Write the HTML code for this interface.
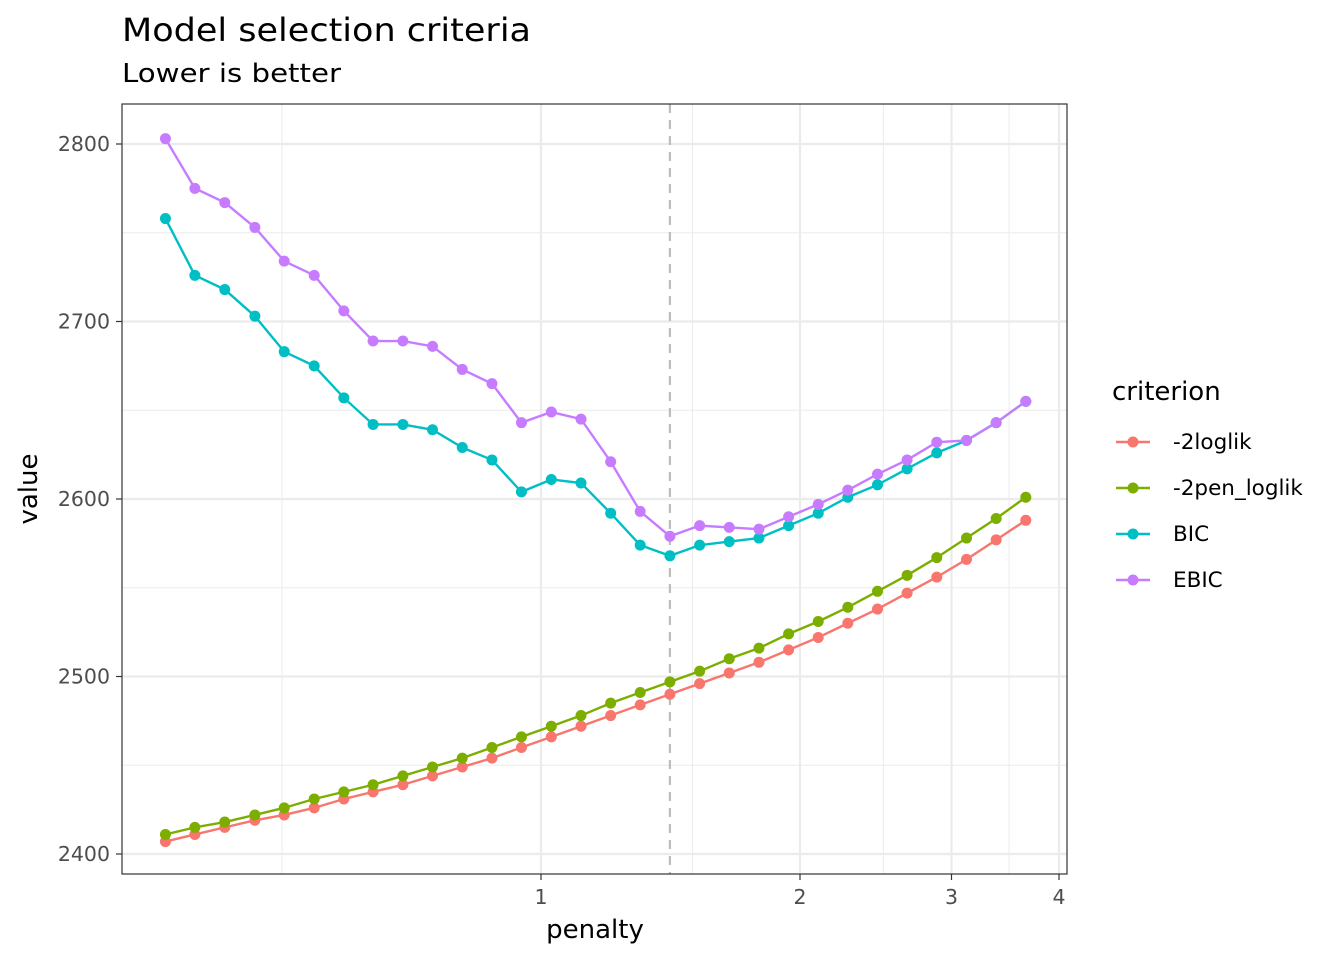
<!DOCTYPE html>
<html><head><meta charset="utf-8"><style>
body{margin:0;background:#fff;font-family:"Liberation Sans","DejaVu Sans",sans-serif}
</style></head><body>
<svg id="chart" width="1344" height="960" xmlns="http://www.w3.org/2000/svg" font-family="'DejaVu Sans','Liberation Sans',sans-serif">
<text x="122" y="41" font-size="32" textLength="409" lengthAdjust="spacingAndGlyphs" fill="#000">Model selection criteria</text>
<text x="122" y="82" font-size="26" textLength="219" lengthAdjust="spacingAndGlyphs" fill="#000">Lower is better</text>
<g id="grid"></g><g id="marks"></g>
<rect x="122" y="104" width="945" height="770" fill="none" stroke="#333" stroke-width="1.2"/>
<g id="axes"></g>
<text x="595" y="938" font-size="26" text-anchor="middle">penalty</text>
<text transform="translate(37,489) rotate(-90)" font-size="26" text-anchor="middle">value</text>
<g id="legend"></g>
</svg>
<script>
const penalty=[0.366,0.396,0.429,0.465,0.503,0.545,0.590,0.638,0.691,0.748,0.810,0.877,0.949,1.028,1.113,1.205,1.304,1.412,1.529,1.655,1.792,1.940,2.100,2.273,2.461,2.664,2.884,3.123,3.381,3.660];
const loglik=[2407,2411,2415,2419,2422,2426,2431,2435,2439,2444,2449,2454,2460,2466,2472,2478,2484,2490,2496,2502,2508,2515,2522,2530,2538,2547,2556,2566,2577,2588];
const penLoglik=[2411,2415,2418,2422,2426,2431,2435,2439,2444,2449,2454,2460,2466,2472,2478,2485,2491,2497,2503,2510,2516,2524,2531,2539,2548,2557,2567,2578,2589,2601];
const bic=[2758,2726,2718,2703,2683,2675,2657,2642,2642,2639,2629,2622,2604,2611,2609,2592,2574,2568,2574,2576,2578,2585,2592,2601,2608,2617,2626,2633,2643,2655];
const ebic=[2803,2775,2767,2753,2734,2726,2706,2689,2689,2686,2673,2665,2643,2649,2645,2621,2593,2579,2585,2584,2583,2590,2597,2605,2614,2622,2632,2633,2643,2655];
const seriesNames=["-2loglik","-2pen_loglik","BIC","EBIC"];
const seriesColors=["#F8766D","#7CAE00","#00BFC4","#C77CFF"];
const xTicks=[1,2,3,4];
const xMinor=[0.5,1.5,2.5,3.5];
const yTicks=[2400,2500,2600,2700,2800];
const yMinor=[2450,2550,2650,2750];
const selected=1.412;
const NS="http://www.w3.org/2000/svg";
const X=v=>541+259*Math.log2(v);
const Y=v=>854-(v-2400)*1.775;
function mk(t,a,p){const e=document.createElementNS(NS,t);for(const k in a)e.setAttribute(k,a[k]);p.appendChild(e);return e;}
const grid=document.getElementById('grid'),marks=document.getElementById('marks'),axes=document.getElementById('axes'),legend=document.getElementById('legend');
yMinor.forEach(v=>{const l=mk('line',{x1:122,x2:1067,y1:Y(v),y2:Y(v),stroke:'#ebebeb','stroke-width':1},grid);

});
xMinor.forEach(v=>{const l=mk('line',{x1:X(v),x2:X(v),y1:104,y2:874,stroke:'#ebebeb','stroke-width':1},grid);

});
yTicks.forEach(v=>{const l=mk('line',{x1:122,x2:1067,y1:Y(v),y2:Y(v),stroke:'#ebebeb','stroke-width':2.2},grid);


const t=mk('line',{x1:116,x2:122,y1:Y(v),y2:Y(v),stroke:'#333','stroke-width':1.2},axes);


const tx=mk('text',{x:110,y:Y(v)+7,'font-size':20.5,'text-anchor':'end',fill:'#4d4d4d'},axes);tx.textContent=v;

});
xTicks.forEach(v=>{const l=mk('line',{x1:X(v),x2:X(v),y1:104,y2:874,stroke:'#ebebeb','stroke-width':2.2},grid);


const t=mk('line',{x1:X(v),x2:X(v),y1:874,y2:880,stroke:'#333','stroke-width':1.2},axes);


const tx=mk('text',{x:X(v),y:904,'font-size':20.5,'text-anchor':'middle',fill:'#4d4d4d'},axes);tx.textContent=v;

});
const dl=mk('line',{x1:X(selected),x2:X(selected),y1:104,y2:874,stroke:'#bdbdbd','stroke-width':2.2,'stroke-dasharray':'9,7'},marks);


[loglik,penLoglik,bic,ebic].forEach((s,i)=>{
const pl=mk('polyline',{points:s.map((v,j)=>X(penalty[j])+','+Y(v)).join(' '),fill:'none',stroke:seriesColors[i],'stroke-width':2.4},marks);


s.forEach((v,j)=>{const c=mk('circle',{cx:X(penalty[j]),cy:Y(v),r:5.5,fill:seriesColors[i]},marks);

});});
const lt=mk('text',{x:1112,y:400,'font-size':26},legend);lt.textContent='criterion';


seriesNames.forEach((n,i)=>{const y=442+46*i;
const g=mk('g',{},legend);


mk('line',{x1:1116,x2:1150,y1:y,y2:y,stroke:seriesColors[i],'stroke-width':2.4},g);
mk('circle',{cx:1133,cy:y,r:5.5,fill:seriesColors[i]},g);
const t=mk('text',{x:1173,y:y+7,'font-size':21.5},g);t.textContent=n;});
</script>
</body></html>
